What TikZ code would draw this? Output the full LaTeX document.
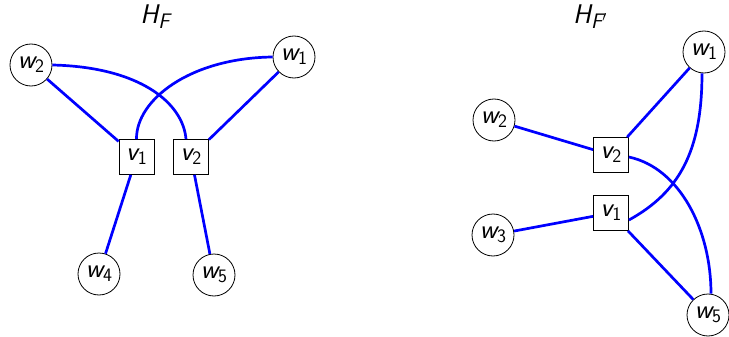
\documentclass[tikz,border=0pt]{standalone}
\usepackage{fontspec}
\newcommand{\lab}[2]{{\sffamily\slshape #1}\raisebox{-0.35ex}{\fontsize{19}{20}\selectfont\sffamily #2}}
\begin{document}
\begin{tikzpicture}[x=1pt,y=-1pt,
  wnode/.style={circle,draw,thick,minimum size=42pt,inner sep=0pt,font=\fontsize{27}{28}\selectfont},
  vnode/.style={rectangle,draw,thick,minimum size=35pt,inner sep=0pt,font=\fontsize{27}{28}\selectfont},
  edge/.style={draw=blue,line width=2.7pt},
  ttl/.style={font=\fontsize{27}{28}\selectfont}]
\useasboundingbox (0,0) rectangle (729,337);
% left graph
\node[ttl] (t1) at (155,17) {{\sffamily\slshape H}\raisebox{-0.45ex}{\fontsize{21}{22}\selectfont\sffamily\slshape F}};
\node[wnode] (lw2) at (31,65) {\lab{w}{2}};
\node[wnode] (lw1) at (294,57) {\lab{w}{1}};
\node[vnode] (lv1) at (136.5,157) {\lab{v}{1}};
\node[vnode] (lv2) at (191,157) {\lab{v}{2}};
\node[wnode] (lw4) at (99,274) {\lab{w}{4}};
\node[wnode] (lw5) at (214,275) {\lab{w}{5}};
\draw[edge] (lw2) -- (lv1);
\draw[edge] (lw1) -- (lv2);
\draw[edge] (lv1) -- (lw4);
\draw[edge] (lv2) -- (lw5);
\draw[edge] (lw2.east) .. controls (140,67) and (183,103) .. ([xshift=-5pt]lv2.north);
\draw[edge] (lw1.west) .. controls (190,58) and (136,100) .. (lv1.north);
% right graph
\node[ttl] (t2) at (590,17) {{\sffamily\slshape H}\raisebox{-0.45ex}{\fontsize{21}{22}\selectfont\sffamily\slshape F$'$}};
\node[wnode] (rw1) at (704,52) {\lab{w}{1}};
\node[wnode] (rw2) at (494,120) {\lab{w}{2}};
\node[vnode] (rv2) at (611,155) {\lab{v}{2}};
\node[vnode] (rv1) at (611,213) {\lab{v}{1}};
\node[wnode] (rw3) at (493,235) {\lab{w}{3}};
\node[wnode] (rw5) at (708,315) {\lab{w}{5}};
\draw[edge] (rw2) -- (rv2);
\draw[edge] (rv2) -- (rw1);
\draw[edge] (rw3) -- (rv1);
\draw[edge] (rv1) -- (rw5);
\draw[edge] ([xshift=-2pt]rw1.south) .. controls (702,150) and (680,192) .. ([yshift=-7pt]rv1.east);
\draw[edge] ([yshift=-2pt]rv2.east) .. controls (680,168) and (711,230) .. ([xshift=3pt]rw5.north);
\end{tikzpicture}
\end{document}
